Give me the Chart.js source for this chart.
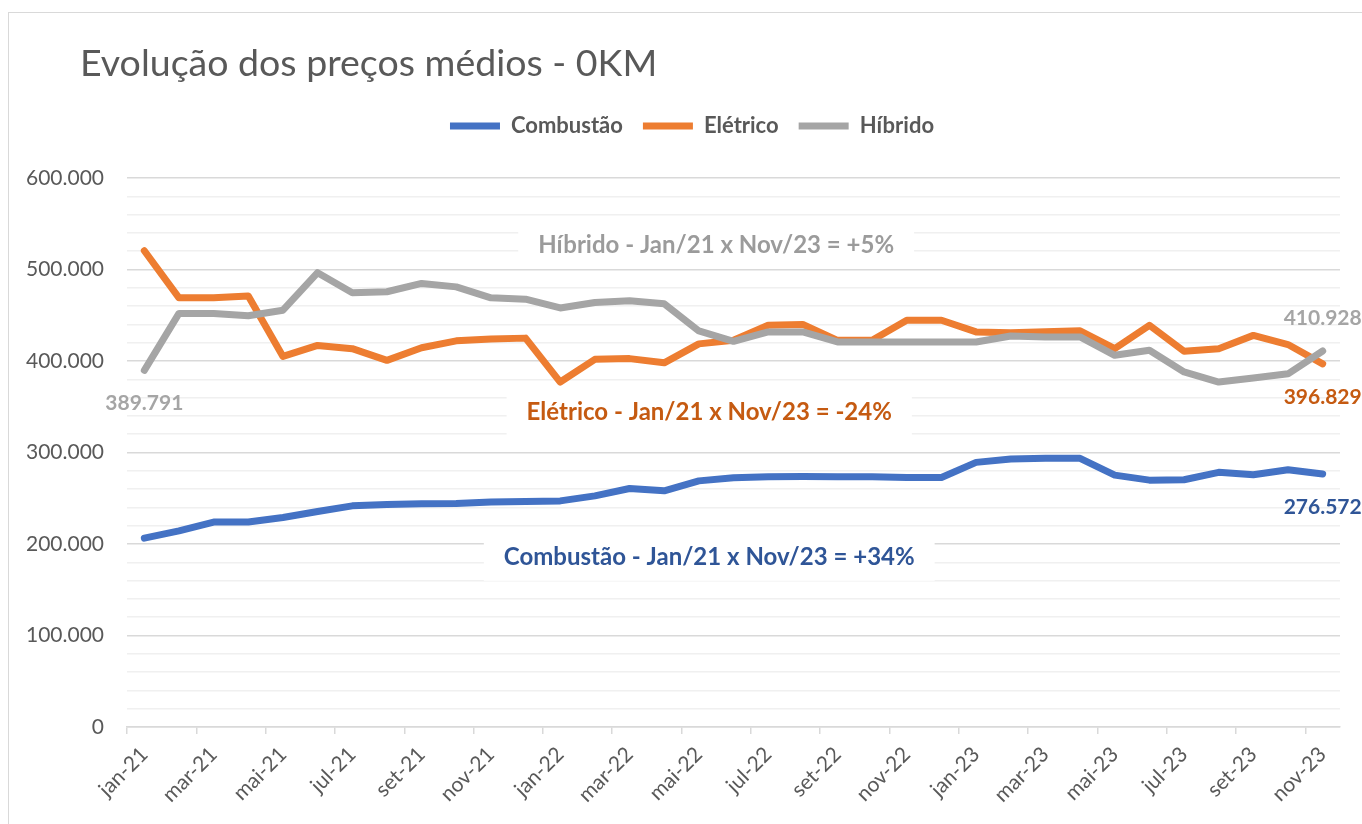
<!DOCTYPE html>
<html lang="pt-BR">
<head>
<meta charset="utf-8">
<title>Evolução dos preços médios - 0KM</title>
<script src="https://cdn.jsdelivr.net/npm/chart.js@4.4.0/dist/chart.umd.min.js"></script>
<style>
    html, body { margin: 0; padding: 0; background: #fff; overflow: hidden; }
    .frame { position: absolute; left: 8px; top: 12px; width: 1400px; height: 900px; border: 1px solid #d9d9d9; }
    canvas { display: block; }
</style>
</head>
<body>
<div class="frame"><canvas id="precosChart" width="1353" height="811"></canvas></div>
<script>
// Preços médios mensais de veículos 0KM por tipo de motorização
const meses = [
    'jan-21', 'fev-21', 'mar-21', 'abr-21', 'mai-21', 'jun-21', 'jul-21', 'ago-21', 'set-21', 'out-21', 'nov-21', 'dez-21',
    'jan-22', 'fev-22', 'mar-22', 'abr-22', 'mai-22', 'jun-22', 'jul-22', 'ago-22', 'set-22', 'out-22', 'nov-22', 'dez-22',
    'jan-23', 'fev-23', 'mar-23', 'abr-23', 'mai-23', 'jun-23', 'jul-23', 'ago-23', 'set-23', 'out-23', 'nov-23'
];

const combustao = [
    206400, 214300, 224000, 224000, 229000, 235500, 241700, 243200, 243900, 244300, 246000, 246400,
    247100, 252600, 260700, 258100, 269000, 272400, 273400, 273800, 273400, 273400, 272700, 272700,
    289200, 292800, 293600, 293600, 275300, 269800, 270200, 278300, 275700, 281200, 276572
];

const eletrico = [
    520500, 469000, 469000, 471000, 405000, 417000, 413500, 400700, 414500, 422000, 424000, 425000,
    377000, 401800, 402600, 398000, 418700, 422600, 439000, 440000, 422600, 422600, 444600, 444600,
    431800, 431000, 432000, 433000, 413500, 439000, 410600, 413500, 428000, 418000, 396829
];

const hibrido = [
    389791, 452000, 452000, 449400, 455500, 496500, 474600, 475700, 484800, 481000, 469000, 467600,
    458000, 464000, 465800, 462500, 432900, 421500, 431800, 431800, 420800, 420800, 420800, 420800,
    420800, 427400, 426300, 426300, 406200, 411700, 388000, 377000, 381400, 386000, 410928
];

const AZUL = '#4472c4';
const LARANJA = '#ed7d31';
const CINZA = '#a5a5a5';
const TEXTO = '#595959';
const FONTE = 'Lato, "Open Sans", sans-serif';

// 600000 -> "600.000"
const formatar = (v) => Math.round(v).toString().replace(/\B(?=(\d{3})+(?!\d))/g, '.');

// variação entre o primeiro e o último mês
const variacao = (serie) => {
    const pct = Math.round((serie[serie.length - 1] / serie[0] - 1) * 100);
    return (pct > 0 ? '+' : '') + pct + '%';
};

// caixas de texto com a variação de cada série (posição em coordenadas do gráfico)
const notas = [
    { texto: 'Híbrido - Jan/21 x Nov/23 = ' + variacao(hibrido), cor: '#9b9b9b', x: 16.5, y: 527000 },
    { texto: 'Elétrico - Jan/21 x Nov/23 = ' + variacao(eletrico), cor: '#c55a11', x: 16.3, y: 343500 },
    { texto: 'Combustão - Jan/21 x Nov/23 = ' + variacao(combustao), cor: '#2f5597', x: 16.3, y: 186000 },
];

// rótulos de valor: dataset, índice do ponto, deslocamento vertical
const rotulos = [
    { ds: 2, idx: 0, dy: 33, cor: CINZA },
    { ds: 2, idx: meses.length - 1, dy: -33, cor: CINZA },
    { ds: 1, idx: meses.length - 1, dy: 33, cor: '#c55a11' },
    { ds: 0, idx: meses.length - 1, dy: 33, cor: '#2f5597' },
];

const tituloPlugin = {
    id: 'titulo',
    afterDraw(chart) {
        const ctx = chart.ctx;
        ctx.save();
        ctx.font = '37.5px ' + FONTE;
        ctx.fillStyle = TEXTO;
        ctx.textAlign = 'left';
        ctx.textBaseline = 'alphabetic';
        ctx.fillText('Evolução dos preços médios - 0KM', 71, 63);
        ctx.restore();
    }
};

const notasPlugin = {
    id: 'notas',
    beforeDatasetsDraw(chart) {
        const ctx = chart.ctx;
        const xs = chart.scales.x;
        const ys = chart.scales.y;
        ctx.save();
        ctx.font = 'bold 24px ' + FONTE;
        ctx.textAlign = 'center';
        ctx.textBaseline = 'middle';
        notas.forEach(n => {
            const x = xs.getPixelForValue(n.x);
            const y = ys.getPixelForValue(n.y);
            const w = ctx.measureText(n.texto).width;
            ctx.fillStyle = '#ffffff';
            ctx.fillRect(x - w / 2 - 20, y - 24, w + 40, 48);
            ctx.fillStyle = n.cor;
            ctx.fillText(n.texto, x, y);
        });
        ctx.restore();
    }
};

const rotulosPlugin = {
    id: 'rotulos',
    afterDatasetsDraw(chart) {
        const ctx = chart.ctx;
        ctx.save();
        ctx.font = 'bold 21px ' + FONTE;
        ctx.textAlign = 'center';
        ctx.textBaseline = 'middle';
        rotulos.forEach(r => {
            const ponto = chart.getDatasetMeta(r.ds).data[r.idx];
            const valor = chart.data.datasets[r.ds].data[r.idx];
            ctx.fillStyle = r.cor;
            ctx.fillText(formatar(valor), ponto.x, ponto.y + r.dy);
        });
        ctx.restore();
    }
};

const serie = (label, data, cor, ordem) => ({
    label: label,
    data: data,
    borderColor: cor,
    backgroundColor: cor,
    borderWidth: 7,
    borderJoinStyle: 'round',
    borderCapStyle: 'round',
    pointRadius: 0,
    tension: 0,
    fill: false,
    order: ordem,
    xAxisID: 'x',
    yAxisID: 'y',
});

// eixo vazio, só reserva espaço na borda do gráfico
const espaco = (tamanho, eixo) => ({
    display: true,
    ticks: { display: false },
    grid: { display: false },
    border: { display: false },
    afterFit: (s) => { s[eixo] = tamanho; },
});

new Chart(document.getElementById('precosChart'), {
    type: 'line',
    data: {
        labels: meses,
        datasets: [
            serie('Combustão', combustao, AZUL, 3),
            serie('Elétrico', eletrico, LARANJA, 2),
            serie('Híbrido', hibrido, CINZA, 1),
        ],
    },
    options: {
        responsive: false,
        animation: false,
        layout: { padding: { left: 15, right: 2, top: 82, bottom: 0 } },
        plugins: {
            title: { display: false },
            tooltip: { enabled: false },
            legend: {
                position: 'top',
                reverse: true,
                labels: {
                    usePointStyle: true,
                    pointStyle: 'line',
                    pointStyleWidth: 50,
                    padding: 20,
                    color: TEXTO,
                    font: { family: FONTE, size: 22, weight: 'bold' },
                },
            },
        },
        scales: {
            x: {
                type: 'category',
                offset: true,
                grid: {
                    offset: true,
                    drawOnChartArea: false,
                    drawTicks: true,
                    tickLength: 7,
                    lineWidth: 1.5,
                    color: (c) => c.index % 2 === 0 ? '#d9d9d9' : 'rgba(0,0,0,0)',
                },
                border: { display: true, color: '#d9d9d9', width: 1.5 },
                ticks: {
                    autoSkip: false,
                    maxRotation: 45,
                    minRotation: 45,
                    padding: 8,
                    color: TEXTO,
                    font: { family: FONTE, size: 21 },
                    callback: (v, i) => i % 2 === 0 ? meses[i] : '',
                },
                afterFit: (s) => { s.height = 97; },
            },
            topo: Object.assign({ type: 'category', position: 'top', labels: meses }, espaco(31, 'height')),
            direita: Object.assign({ type: 'linear', position: 'right' }, espaco(20, 'width')),
            y: {
                min: 0,
                max: 600000,
                border: { display: false },
                grid: {
                    drawTicks: false,
                    lineWidth: 1.5,
                    color: (c) => c.tick && c.tick.value % 100000 === 0 ? '#d9d9d9' : '#f0f0f0',
                },
                ticks: {
                    stepSize: 20000,
                    maxTicksLimit: 40,
                    autoSkip: false,
                    padding: 23,
                    color: TEXTO,
                    font: { family: FONTE, size: 21 },
                    callback: (v) => v % 100000 === 0 ? formatar(v) : '',
                },
                afterFit: (s) => { s.width = 103; },
            },
        },
    },
    plugins: [tituloPlugin, notasPlugin, rotulosPlugin],
});
</script>
</body>
</html>
